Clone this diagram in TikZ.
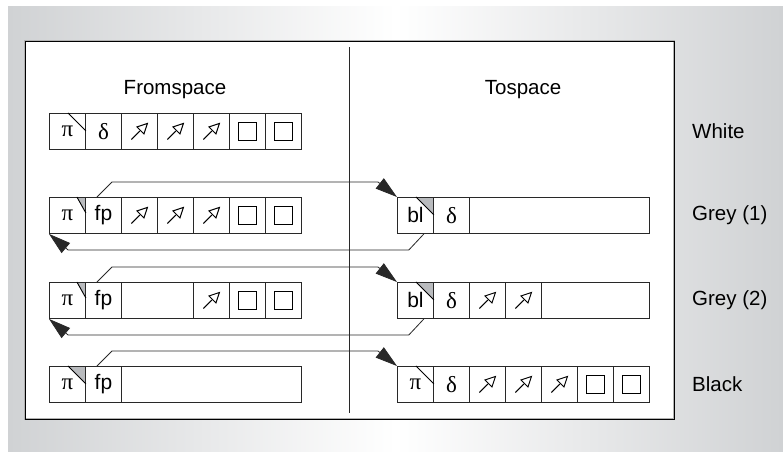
\documentclass[tikz,border=0pt]{standalone}
\usepackage{fontspec}
\setmainfont{Liberation Sans}
\newfontfamily\greekserif{Liberation Serif}
\usetikzlibrary{calc,arrows.meta}

\definecolor{bggray}{RGB}{208,210,212}
\definecolor{cornergray}{RGB}{185,187,190}
\definecolor{linegray}{RGB}{40,40,40}

\tikzset{
  cell/.style={draw=linegray, line width=0.9pt, minimum width=36pt, minimum height=36pt,
    inner sep=0pt, anchor=north west, font=\fontsize{21}{25}\selectfont},
  gk/.style={font=\greekserif\fontsize{23}{27}\selectfont},
  label/.style={font=\fontsize{20.5}{24}\selectfont, inner sep=0pt},
  conn/.style={draw=linegray, line width=0.8pt},
  tip/.style={-{Triangle[length=22pt,width=13pt]}},
  ptrglyph/.pic={
    \draw[line width=1pt, line join=miter] (-8,8) -- (0.5,-0.5);
    \draw[line width=1pt, line join=miter] (8,-8) -- (4.5,2.5) -- (-2.5,-4.5) -- cycle;
  },
  boxglyph/.pic={
    \draw[line width=0.9pt] (-9,-9) rectangle (9,9);
  }
}

% corner mark of the first cell of an object: #1 cell, #2 width, #3 height, #4 fill
\newcommand\cornermark[4]{%
  \fill[#4] ($(#1.north east)+(-#2,0)$) -- (#1.north east) -- ($(#1.north east)+(0,#3)$) -- cycle;
  \draw[linegray, line width=0.9pt] (#1.north west) rectangle (#1.south east);
  \draw[line width=0.9pt] ($(#1.north east)+(-#2,0)$) -- ($(#1.north east)+(0,#3)$);
}

\begin{document}
\begin{tikzpicture}[x=1pt, y=-1pt]
\useasboundingbox (0,0) rectangle (783,451);

% background panel and frame
\shade[left color=bggray, right color=bggray, middle color=white] (8,6) rectangle (783,451);
\fill[white] (25,41) rectangle (674,419);
\draw[gray!60, line width=2.2pt] (25,41) rectangle (674,419);
\draw[black, line width=0.9pt] (25,41) rectangle (674,419);
\draw[linegray, line width=0.9pt] (349,47) -- (349,413);

% headings
\node[label] (hfrom) at (175,90) {Fromspace};
\node[label] (hto) at (523,90) {Tospace};
\node[label, anchor=west] (lwhite) at (692,131) {White};
\node[label, anchor=west] (lgrey1) at (692,215) {Grey (1)};
\node[label, anchor=west] (lgrey2) at (692,300) {Grey (2)};
\node[label, anchor=west] (lblack) at (692,384) {Black};

% ---- row 1: white
\node[cell, gk] (f1a) at (49,113) {π};
\node[cell, gk] (f1b) at (85,113) {δ};
\node[cell] (f1c) at (121,113) {};
\node[cell] (f1d) at (157,113) {};
\node[cell] (f1e) at (193,113) {};
\node[cell] (f1f) at (229,113) {};
\node[cell] (f1g) at (265,113) {};
\cornermark{f1a}{18}{18}{white}
\pic at (f1c.center) {ptrglyph};
\pic at (f1d.center) {ptrglyph};
\pic at (f1e.center) {ptrglyph};
\pic at (f1f.center) {boxglyph};
\pic at (f1g.center) {boxglyph};

% ---- row 2: grey (1)
\node[cell, gk] (f2a) at (49,197) {π};
\node[cell] (f2b) at (85,197) {fp};
\node[cell] (f2c) at (121,197) {};
\node[cell] (f2d) at (157,197) {};
\node[cell] (f2e) at (193,197) {};
\node[cell] (f2f) at (229,197) {};
\node[cell] (f2g) at (265,197) {};
\cornermark{f2a}{9}{16}{cornergray}
\pic at (f2c.center) {ptrglyph};
\pic at (f2d.center) {ptrglyph};
\pic at (f2e.center) {ptrglyph};
\pic at (f2f.center) {boxglyph};
\pic at (f2g.center) {boxglyph};

\node[cell] (t2a) at (397,197) {bl};
\node[cell, gk] (t2b) at (433,197) {δ};
\node[cell, minimum width=180pt] (t2c) at (469,197) {};
\cornermark{t2a}{18}{18}{cornergray}

% ---- row 3: grey (2)
\node[cell, gk] (f3a) at (49,282) {π};
\node[cell] (f3b) at (85,282) {fp};
\node[cell, minimum width=72pt] (f3c) at (121,282) {};
\node[cell] (f3e) at (193,282) {};
\node[cell] (f3f) at (229,282) {};
\node[cell] (f3g) at (265,282) {};
\cornermark{f3a}{9}{16}{cornergray}
\pic at (f3e.center) {ptrglyph};
\pic at (f3f.center) {boxglyph};
\pic at (f3g.center) {boxglyph};

\node[cell] (t3a) at (397,282) {bl};
\node[cell, gk] (t3b) at (433,282) {δ};
\node[cell] (t3c) at (469,282) {};
\node[cell] (t3d) at (505,282) {};
\node[cell, minimum width=108pt] (t3e) at (541,282) {};
\cornermark{t3a}{18}{18}{cornergray}
\pic at (t3c.center) {ptrglyph};
\pic at (t3d.center) {ptrglyph};

% ---- row 4: black
\node[cell, gk] (f4a) at (49,366) {π};
\node[cell] (f4b) at (85,366) {fp};
\node[cell, minimum width=180pt] (f4c) at (121,366) {};
\cornermark{f4a}{18}{18}{cornergray}

\node[cell, gk] (t4a) at (397,366) {π};
\node[cell, gk] (t4b) at (433,366) {δ};
\node[cell] (t4c) at (469,366) {};
\node[cell] (t4d) at (505,366) {};
\node[cell] (t4e) at (541,366) {};
\node[cell] (t4f) at (577,366) {};
\node[cell] (t4g) at (613,366) {};
\cornermark{t4a}{18}{18}{white}
\pic at (t4c.center) {ptrglyph};
\pic at (t4d.center) {ptrglyph};
\pic at (t4e.center) {ptrglyph};
\pic at (t4f.center) {boxglyph};
\pic at (t4g.center) {boxglyph};

% ---- forwarding pointers (fromspace -> tospace)
\foreach \r in {2,3,4} {
  \draw[conn, tip] ($(f\r b.north west)+(12,0)$) -- ++(15,-15)
    -- ($(t\r a.north west)+(-19,-15)$) -- (t\r a.north west);
}
% ---- back links (tospace -> fromspace)
\foreach \r in {2,3} {
  \draw[conn, tip] ($(t\r a.south east)+(-10,0)$) -- ++(-15,16)
    -- ($(f\r a.south west)+(19,16)$) -- (f\r a.south west);
}
\end{tikzpicture}
\end{document}
